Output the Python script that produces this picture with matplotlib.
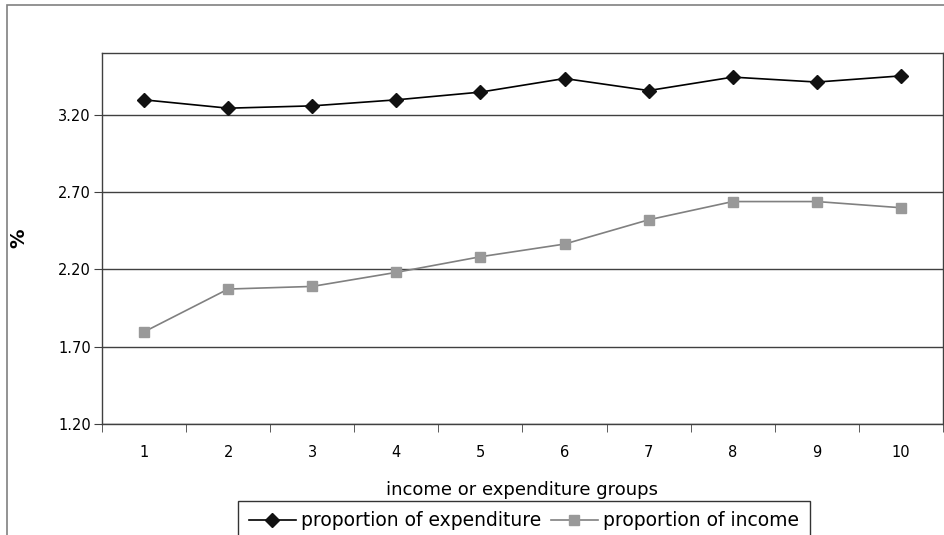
import matplotlib
matplotlib.use("Agg")
import matplotlib.pyplot as plt
from matplotlib.patches import Rectangle

groups = [1, 2, 3, 4, 5, 6, 7, 8, 9, 10]
expenditure = [3.297, 3.243, 3.258, 3.297, 3.347, 3.435, 3.357, 3.444, 3.412, 3.452]
income = [1.796, 2.073, 2.090, 2.181, 2.282, 2.364, 2.521, 2.639, 2.639, 2.599]
yticks = [1.20, 1.70, 2.20, 2.70, 3.20]

plt.rcParams['font.family'] = ['DejaVu Sans']

fig = plt.figure(figsize=(9.45, 5.35), dpi=100)
# outer chart border
fig.patches.append(Rectangle((7/945, -0.05), 1.2, 1 - 5/535 + 0.05, transform=fig.transFigure,
                             fill=False, edgecolor='#808080', linewidth=1.2))

ax = fig.add_axes([102/945, 1 - 424/535, (943 - 102)/945, (424 - 53)/535])
ax.plot(groups, expenditure, color='black', linewidth=1.2, marker='D', markersize=7,
        markerfacecolor='#111111', markeredgecolor='#111111', label='proportion of expenditure', zorder=3)
ax.plot(groups, income, color='#808080', linewidth=1.2, marker='s', markersize=6.5,
        markerfacecolor='#999999', markeredgecolor='#999999', label='proportion of income', zorder=3)

ax.set_xlim(0.5, 10.5)
ax.set_ylim(1.20, 3.60)
ax.set_yticks(yticks)
ax.set_yticklabels([f"{v:.2f}" for v in yticks], fontsize=10.5)
ax.set_xticks(groups)
ax.set_xticklabels([str(g) for g in groups], fontsize=10.5)
ax.tick_params(axis='x', length=0, pad=15)
ax.set_xticks([g + 0.5 for g in range(0, 11)], minor=True)
ax.tick_params(axis='x', which='minor', length=6, direction='out', color='#404040')
ax.tick_params(axis='y', length=6, direction='out', color='#404040', pad=2)
ax.grid(axis='y', color='#404040', linewidth=1.0)
ax.set_axisbelow(True)
for s in ax.spines.values():
    s.set_color('#404040')
    s.set_linewidth(1.0)

ax.set_xlabel('income or expenditure groups', fontsize=13, labelpad=15)
ax.set_ylabel('%', fontsize=14, fontweight='bold')
ax.yaxis.set_label_coords(28/945, 1 - 238/535, transform=fig.transFigure)

leg = fig.legend(loc='upper center', bbox_to_anchor=(524/945, 1 - 501/535), ncol=2,
                 fontsize=13.5, frameon=True, fancybox=False, edgecolor='black',
                 handlelength=2.5, columnspacing=0.5, handletextpad=0.3,
                 borderpad=0.55, borderaxespad=0)
leg.get_frame().set_linewidth(1.0)

fig.savefig('out.png', dpi=100)
